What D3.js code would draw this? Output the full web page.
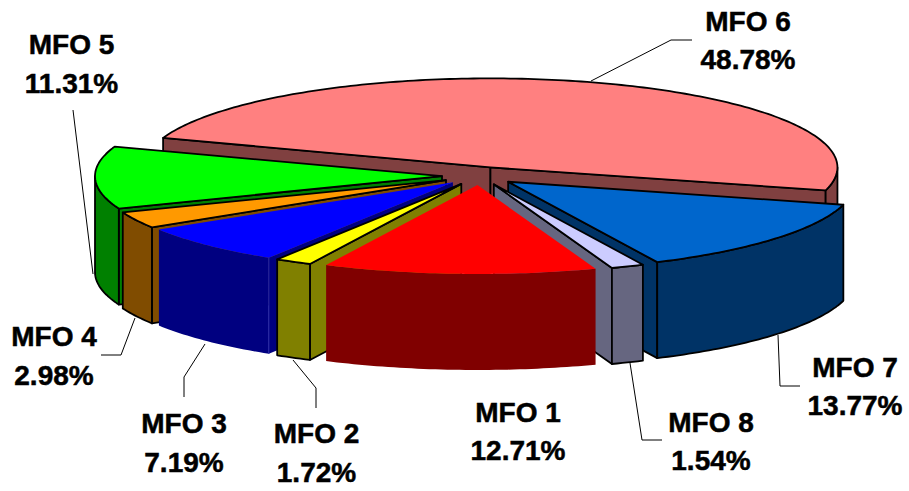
<!DOCTYPE html>
<html>
<head>
<meta charset="utf-8">
<script src="https://cdn.jsdelivr.net/npm/d3@7"></script>
<style>
  html, body { margin: 0; padding: 0; background: #fff; }
  svg { display: block; }
  text { font-family: "Liberation Sans", Arial, sans-serif; font-weight: bold; font-size: 28px; fill: #000; stroke: #000; stroke-width: 0.5px; }
</style>
</head>
<body>
<div id="chart"></div>
<script>
// values, clockwise starting from MFO 1
const names = ["MFO 1", "MFO 2", "MFO 3", "MFO 4", "MFO 5", "MFO 6", "MFO 7", "MFO 8"];
const shares = [12.71, 1.72, 7.19, 2.98, 11.31, 48.78, 13.77, 1.54];
const topColors = ["#FF0000", "#FFFF00", "#0000FF", "#FF9900", "#00FF00", "#FF8080", "#0066CC", "#CCCCFF"];
const wallColors = ["#800000", "#808000", "#000080", "#804C00", "#008000", "#804040", "#003366", "#666680"];
const outlines = ["none", "#000", "none", "#000", "#000", "#000", "#000", "#000"];

// painter's order, back to front
const drawOrder = ["MFO 6", "MFO 5", "MFO 4", "MFO 3", "MFO 7", "MFO 8", "MFO 2", "MFO 1"];

// label placement: centre x, baselines of both lines
const labelX = [518, 316.5, 184, 54, 71.5, 748, 855, 711];
const labelY1 = [422, 443, 433, 346, 54, 31, 377, 432];
const labelY2 = [460, 482, 472, 385, 93, 69, 415, 470];

// leader lines
const leaders = [
  null,
  [[293, 360], [316, 388], [316, 408]],
  [[205, 344], [184, 377], [184, 397]],
  [[135, 318], [121, 355], [101, 355]],
  [[73, 110], [93, 274]],
  [[591, 81], [671, 40], [692, 40]],
  [[778, 335], [780, 386], [800, 386]],
  [[630, 363], [642, 440], [662, 440]]
];

const width = 909, height = 491;
const cx = 479.4, cy = 176, rx = 347, ry = 89, depth = 96;
const explodeX = 37.4, explodeY = 9;
const rad = Math.PI / 180;

const svg = d3.select("#chart").append("svg")
  .attr("width", width)
  .attr("height", height)
  .attr("viewBox", [0, 0, width, height]);

const startDeg = 160.1;
const pie = d3.pie().sort(null).value(d => d)
  .startAngle(startDeg * rad)
  .endAngle((startDeg + 360) * rad);

const slices = pie(shares).map((d, i) => {
  const mid = (d.startAngle + d.endAngle) / 2;
  return {
    name: names[i], a0: d.startAngle, a1: d.endAngle,
    ax: cx + explodeX * Math.sin(mid),
    ay: cy - explodeY * Math.cos(mid),
    top: topColors[i], wall: wallColors[i], outline: outlines[i]
  };
});

const line = d3.line();

// point on the rim of a slice, dz pushes it down by the extrusion
const rim = (s, a, dz = 0) => [s.ax + rx * Math.sin(a), s.ay - ry * Math.cos(a) + dz];

const arcPoints = (s, a0, a1, dz = 0) => {
  const n = Math.max(2, Math.ceil((a1 - a0) / rad));
  return d3.range(n + 1).map(i => rim(s, a0 + (a1 - a0) * i / n, dz));
};

// which radial walls face the viewer
const radialWalls = s => {
  const out = [];
  if (Math.sin(s.a0) < 0) out.push(s.a0);
  if (Math.sin(s.a1) > 0) out.push(s.a1);
  return out;
};

// only the part of the rim between 90 and 270 degrees is on the near side
const outerWalls = s => {
  const out = [];
  [0, 360].forEach(k => {
    const lo = Math.max(s.a0, (90 + k) * rad), hi = Math.min(s.a1, (270 + k) * rad);
    if (hi > lo) out.push([lo, hi]);
  });
  return out;
};

const groups = svg.selectAll("g.slice")
  .data(drawOrder.map(n => slices.find(s => s.name === n)))
  .join("g")
  .attr("class", "slice")
  .attr("stroke-width", 1.8)
  .attr("stroke-linejoin", "round");

groups.each(function (s) {
  const g = d3.select(this);

  radialWalls(s).forEach(a => {
    g.append("path")
      .attr("d", line([[s.ax, s.ay], rim(s, a), rim(s, a, depth), [s.ax, s.ay + depth]]) + "Z")
      .attr("fill", s.wall)
      .attr("stroke", s.outline);
  });

  outerWalls(s).forEach(([lo, hi]) => {
    g.append("path")
      .attr("d", line(arcPoints(s, lo, hi).concat(arcPoints(s, lo, hi, depth).reverse())) + "Z")
      .attr("fill", s.wall)
      .attr("stroke", s.outline);
  });

  // MFO 3 has no outline, just a faint seam where its two walls meet
  if (s.name === "MFO 3") {
    g.append("path")
      .attr("d", line([rim(s, s.a0), rim(s, s.a0, depth)]))
      .attr("stroke", "#2A2AA8")
      .attr("stroke-width", 1);
  }

  g.append("path")
    .attr("d", line([[s.ax, s.ay]].concat(arcPoints(s, s.a0, s.a1))) + "Z")
    .attr("fill", s.top)
    .attr("stroke", s.outline);
});

svg.append("g").selectAll("path")
  .data(leaders.filter(d => d))
  .join("path")
  .attr("d", d => line(d))
  .attr("fill", "none")
  .attr("stroke", "#000")
  .attr("stroke-width", 1);

const labels = svg.append("g").selectAll("text")
  .data(names)
  .join("text")
  .attr("text-anchor", "middle");

labels.append("tspan")
  .attr("x", (d, i) => labelX[i])
  .attr("y", (d, i) => labelY1[i])
  .text(d => d);

labels.append("tspan")
  .attr("x", (d, i) => labelX[i])
  .attr("y", (d, i) => labelY2[i])
  .text((d, i) => shares[i].toFixed(2) + "%");
</script>
</body>
</html>
